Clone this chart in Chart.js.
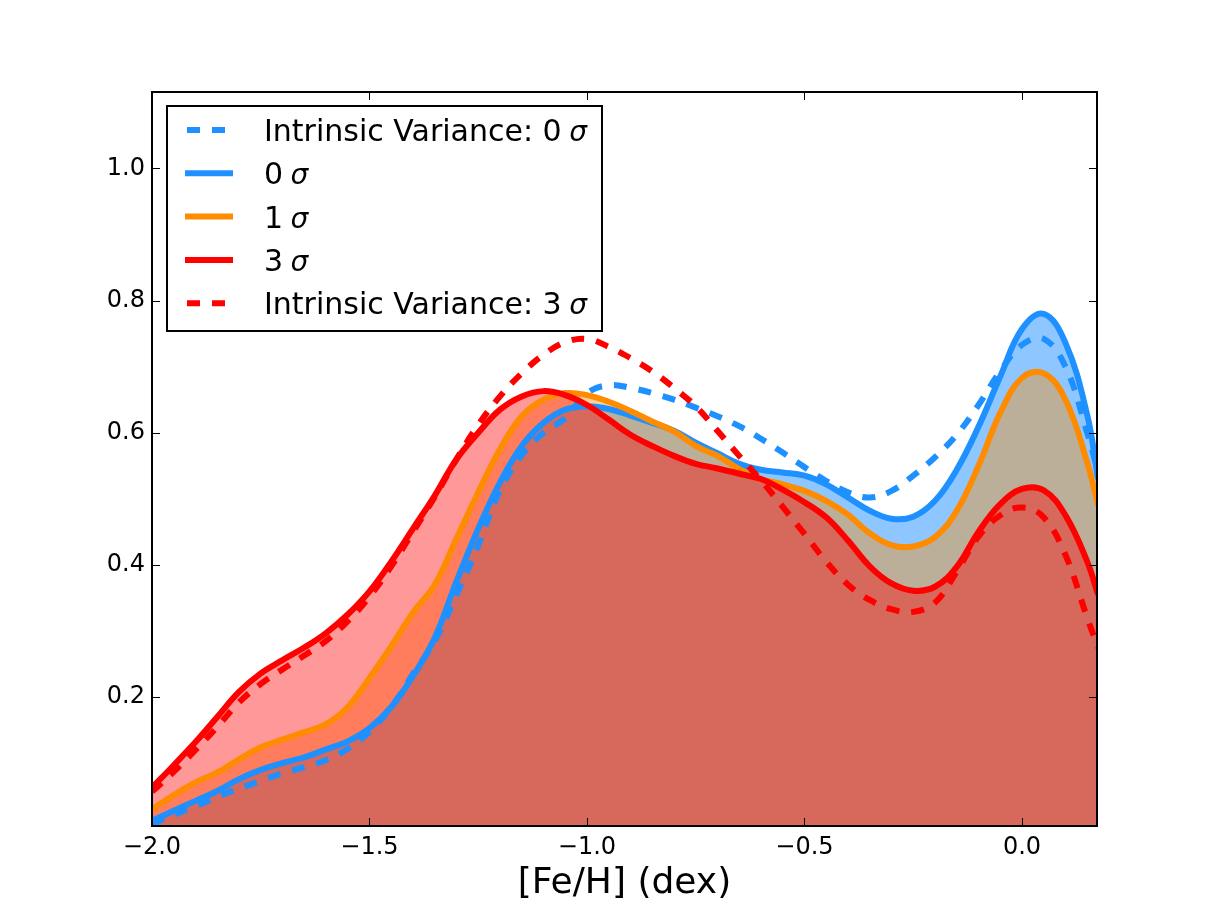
<!DOCTYPE html>
<html>
<head>
<meta charset="utf-8">
<script src="https://cdn.jsdelivr.net/npm/chart.js@4.4.1/dist/chart.umd.min.js"></script>
<style>
    html, body { margin: 0; padding: 0; background: #fff; }
    #wrap { width: 1219px; height: 919px; }
</style>
</head>
<body>
<div id="wrap"><canvas id="myChart" width="1219" height="919"></canvas></div>
<script>
// [Fe/H] grid the curves were read on
var feh = [-2.00, -1.95, -1.90, -1.85, -1.80, -1.75, -1.70, -1.65, -1.60, -1.55,
    -1.50, -1.45, -1.40, -1.35, -1.30, -1.25, -1.20, -1.15, -1.10, -1.05,
    -1.00, -0.95, -0.90, -0.85, -0.80, -0.75, -0.70, -0.65, -0.60, -0.55,
    -0.50, -0.45, -0.40, -0.35, -0.30, -0.25, -0.20, -0.15, -0.10, -0.05,
    0.00, 0.05, 0.10, 0.15, 0.175];

var intrinsic0 = [0.008, 0.022, 0.035, 0.049, 0.062, 0.073, 0.085, 0.094, 0.105, 0.122,
    0.148, 0.185, 0.235, 0.285, 0.355, 0.430, 0.513, 0.566, 0.600, 0.622,
    0.660, 0.672, 0.668, 0.660, 0.650, 0.638, 0.625, 0.610, 0.591, 0.570,
    0.548, 0.527, 0.510, 0.502, 0.512, 0.535, 0.563, 0.597, 0.642, 0.693,
    0.733, 0.742, 0.700, 0.600, 0.540];

var sigma0 = [0.013, 0.028, 0.043, 0.058, 0.076, 0.090, 0.100, 0.109, 0.121, 0.133,
    0.153, 0.185, 0.232, 0.290, 0.375, 0.455, 0.525, 0.580, 0.615, 0.635,
    0.640, 0.636, 0.626, 0.615, 0.603, 0.585, 0.569, 0.553, 0.544, 0.540,
    0.535, 0.522, 0.502, 0.482, 0.470, 0.473, 0.497, 0.544, 0.609, 0.685,
    0.757, 0.780, 0.736, 0.627, 0.530];

var sigma1 = [0.030, 0.052, 0.071, 0.086, 0.106, 0.124, 0.136, 0.147, 0.159, 0.185,
    0.229, 0.277, 0.328, 0.370, 0.440, 0.510, 0.575, 0.625, 0.650, 0.660,
    0.657, 0.647, 0.633, 0.617, 0.602, 0.580, 0.565, 0.545, 0.530, 0.522,
    0.512, 0.497, 0.476, 0.448, 0.430, 0.428, 0.442, 0.482, 0.550, 0.630,
    0.683, 0.690, 0.650, 0.555, 0.490];

var sigma3 = [0.063, 0.097, 0.132, 0.170, 0.208, 0.236, 0.256, 0.275, 0.297, 0.325,
    0.360, 0.405, 0.455, 0.505, 0.560, 0.600, 0.635, 0.655, 0.663, 0.657,
    0.642, 0.620, 0.597, 0.580, 0.565, 0.553, 0.546, 0.538, 0.530, 0.514,
    0.495, 0.472, 0.437, 0.398, 0.372, 0.361, 0.367, 0.397, 0.450, 0.492,
    0.515, 0.513, 0.475, 0.405, 0.355];

var intrinsic3 = [0.057, 0.087, 0.120, 0.155, 0.192, 0.220, 0.242, 0.263, 0.285, 0.315,
    0.352, 0.398, 0.450, 0.503, 0.560, 0.612, 0.655, 0.690, 0.718, 0.737,
    0.742, 0.730, 0.713, 0.693, 0.668, 0.640, 0.603, 0.565, 0.528, 0.488,
    0.447, 0.405, 0.370, 0.347, 0.333, 0.329, 0.343, 0.390, 0.443, 0.475,
    0.487, 0.472, 0.415, 0.320, 0.275];

var xTicks = [-2.0, -1.5, -1.0, -0.5, 0.0];
var yTicks = [0.2, 0.4, 0.6, 0.8, 1.0];
var legendLabels = ["Intrinsic Variance: 0", "0", "1", "3", "Intrinsic Variance: 3"];
var xTitle = "[Fe/H] (dex)";

var FONT = '"DejaVu Sans", "Liberation Sans", sans-serif';

function points(ys) {
    return feh.map(function (x, i) { return { x: x, y: ys[i] }; });
}

function fmtTick(v) {
    var s = Math.abs(v) < 1e-9 ? "0.0" : v.toFixed(1);
    return s.replace("-", "\u2212");
}

// matplotlib style frame: box spines and inward ticks on all four sides
var frameTicks = {
    id: 'frameTicks',
    afterDatasetsDraw: function (chart) {
        var ctx = chart.ctx;
        var a = chart.chartArea;
        var xs = chart.scales.x;
        var ys = chart.scales.y;
        ctx.save();
        ctx.strokeStyle = '#000';
        ctx.lineWidth = 1;
        ctx.beginPath();
        xTicks.forEach(function (v) {
            var px = Math.round(xs.getPixelForValue(v)) + 0.5;
            ctx.moveTo(px, a.bottom);
            ctx.lineTo(px, a.bottom - 8);
            ctx.moveTo(px, a.top);
            ctx.lineTo(px, a.top + 8);
        });
        yTicks.forEach(function (v) {
            var py = Math.round(ys.getPixelForValue(v)) + 0.5;
            ctx.moveTo(a.left, py);
            ctx.lineTo(a.left + 8, py);
            ctx.moveTo(a.right, py);
            ctx.lineTo(a.right - 8, py);
        });
        ctx.stroke();
        ctx.lineWidth = 2;
        ctx.strokeRect(a.left, a.top, a.right - a.left, a.bottom - a.top);
        ctx.restore();
    }
};

var legendBox = {
    id: 'legendBox',
    afterDraw: function (chart) {
        var ctx = chart.ctx;
        var a = chart.chartArea;
        var x0 = a.left + 15, y0 = a.top + 14, w = 435, h = 225;
        ctx.save();
        ctx.fillStyle = '#fff';
        ctx.fillRect(x0, y0, w, h);
        ctx.strokeStyle = '#000';
        ctx.lineWidth = 2;
        ctx.strokeRect(x0, y0, w, h);
        chart.data.datasets.forEach(function (ds, i) {
            var cy = y0 + 24 + i * 43.3;
            ctx.strokeStyle = ds.borderColor;
            ctx.lineWidth = ds.borderWidth;
            ctx.lineCap = 'butt';
            ctx.setLineDash(ds.borderDash || []);
            ctx.lineDashOffset = -2;
            ctx.beginPath();
            ctx.moveTo(x0 + 18, cy);
            ctx.lineTo(x0 + 66, cy);
            ctx.stroke();
            ctx.setLineDash([]);
            ctx.fillStyle = '#000';
            ctx.textBaseline = 'alphabetic';
            ctx.textAlign = 'left';
            ctx.font = '30px ' + FONT;
            var txt = ds.label + ' ';
            ctx.fillText(txt, x0 + 97, cy + 11);
            var tw = ctx.measureText(txt).width;
            ctx.font = 'italic 28px ' + FONT;
            ctx.fillText('\u03c3', x0 + 95 + tw, cy + 11);
        });
        ctx.restore();
    }
};

var base = {
    borderWidth: 6,
    pointRadius: 0,
    pointHoverRadius: 0,
    tension: 0.4,
    capBezierPoints: false,
    clip: 0,
    borderCapStyle: 'butt',
    borderJoinStyle: 'round'
};

var ctx = document.getElementById('myChart').getContext('2d');
var chart = new Chart(ctx, {
    type: 'line',
    data: {
        datasets: [
            Object.assign({}, base, {
                label: legendLabels[0], data: points(intrinsic0),
                borderColor: 'rgb(30, 144, 255)', borderDash: [13, 12], fill: false, order: 5
            }),
            Object.assign({}, base, {
                label: legendLabels[1], data: points(sigma0),
                borderColor: 'rgb(30, 144, 255)', backgroundColor: 'rgba(30, 144, 255, 0.5)', fill: 'origin', order: 4
            }),
            Object.assign({}, base, {
                label: legendLabels[2], data: points(sigma1),
                borderColor: 'rgb(255, 140, 0)', backgroundColor: 'rgba(255, 140, 0, 0.4)', fill: 'origin', order: 3
            }),
            Object.assign({}, base, {
                label: legendLabels[3], data: points(sigma3),
                borderColor: 'rgb(255, 0, 0)', backgroundColor: 'rgba(255, 0, 0, 0.4)', fill: 'origin', order: 2
            }),
            Object.assign({}, base, {
                label: legendLabels[4], data: points(intrinsic3),
                borderColor: 'rgb(255, 0, 0)', borderDash: [13, 12], fill: false, order: 1
            })
        ]
    },
    options: {
        responsive: false,
        animation: false,
        events: [],
        layout: { padding: { left: 0, right: 122, top: 92, bottom: 0 } },
        plugins: {
            legend: { display: false },
            tooltip: { enabled: false },
            filler: { drawTime: 'beforeDatasetsDraw' }
        },
        scales: {
            x: {
                type: 'linear',
                min: -2.0,
                max: 0.1725,
                afterBuildTicks: function (s) { s.ticks = xTicks.map(function (v) { return { value: v }; }); },
                afterFit: function (s) { s.height = 93; },
                grid: { display: false, drawTicks: false },
                border: { display: false },
                ticks: {
                    callback: fmtTick, color: '#000', padding: 7,
                    maxRotation: 0, autoSkip: false,
                    font: { family: FONT, size: 24 }
                },
                title: {
                    display: true, text: xTitle, color: '#000',
                    font: { family: FONT, size: 36 },
                    padding: { top: 0, bottom: 14 }
                }
            },
            y: {
                type: 'linear',
                min: 0.005,
                max: 1.1156,
                afterBuildTicks: function (s) { s.ticks = yTicks.map(function (v) { return { value: v }; }); },
                afterFit: function (s) { s.width = 152; },
                grid: { display: false, drawTicks: false },
                border: { display: false },
                ticks: {
                    callback: fmtTick, color: '#000', padding: 7,
                    font: { family: FONT, size: 24 }
                }
            }
        }
    },
    plugins: [frameTicks, legendBox]
});
</script>
</body>
</html>
